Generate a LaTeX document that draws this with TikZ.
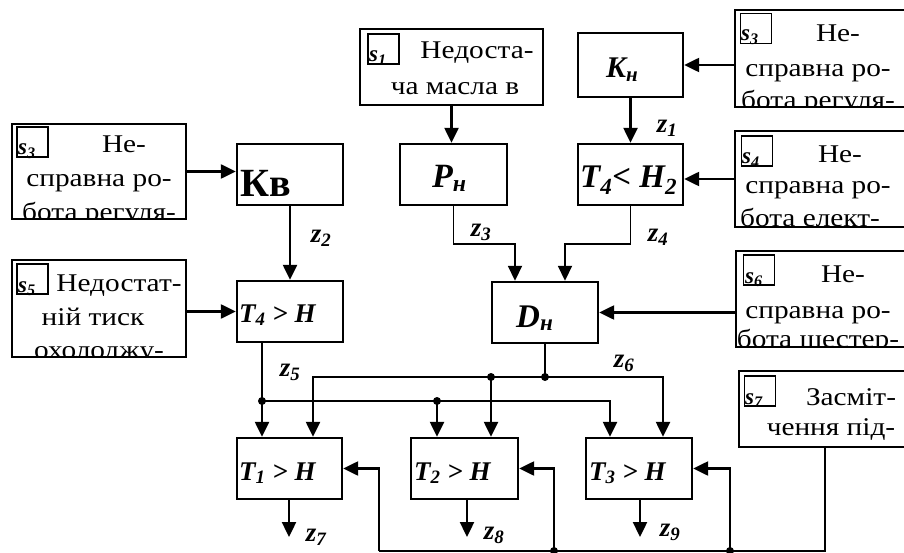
\documentclass[tikz,border=0pt]{standalone}
\usepackage{fontspec}
\setmainfont{Liberation Serif}
\newfontfamily\boxfont{Liberation Serif}[FakeStretch=1.15]
\usetikzlibrary{arrows.meta}
\begin{document}
\begin{tikzpicture}[x=1pt,y=-1pt,
  blk/.style={draw, line width=2.4pt, inner sep=0pt, minimum width=106pt, minimum height=61pt},
  src/.style={draw, line width=2pt, inner sep=0pt},
  sbx/.style={draw, line width=1.2pt, inner sep=0pt, minimum width=31pt, minimum height=30pt},
  arr/.style={line width=2.4pt, -{Triangle[length=15pt,width=14pt]}},
  wire/.style={line width=2.2pt},
  thinw/.style={line width=1.5pt},
  tl/.style={font=\boxfont\fontsize{25.5}{28}\selectfont, anchor=base, inner sep=0pt},
  lbl/.style={font=\bfseries\itshape, anchor=base west, inner sep=0pt},
  zl/.style={font=\fontsize{27}{30}\selectfont\bfseries\itshape, inner sep=0pt},
  sl/.style={font=\fontsize{23}{26}\selectfont\bfseries\itshape, anchor=base west, inner sep=0pt},
  dot/.style={circle, fill, inner sep=0pt, minimum size=8pt}
]
\useasboundingbox (0,0) rectangle (904,553);
\clip (0,0) rectangle (904,553);

% ---------- source text boxes ----------
% sA (s3 left)
\begin{scope}\clip (12,124) rectangle (186,218);
\node[tl] (tA1) at (124,153) {Не-};
\node[tl] (tA2) at (99,187) {справна ро-};
\node[tl] (tA3) at (99,221) {бота регуля-};
\end{scope}
\node[src, minimum width=174pt, minimum height=95pt] (sA) at (99,171.5) {};
\node[sbx] (sqA) at (32.5,142) {};
\node[sl] (lA) at (18,155) {s\textsubscript{3}};

% sB (s5)
\begin{scope}\clip (12,260) rectangle (186,356);
\node[tl] (tB1) at (119,291) {Недостат-};
\node[tl] (tB2) at (93,325) {ній тиск};
\node[tl] (tB3) at (99,358) {охолоджу-};
\end{scope}
\node[src, minimum width=174pt, minimum height=97pt] (sB) at (99,308.5) {};
\node[sbx] (sqB) at (32.5,279) {};
\node[sl] (lB) at (18,292) {s\textsubscript{5}};

% s1
\node[tl] (t11) at (477,59) {Недоста-};
\node[tl] (t12) at (455,95) {ча масла в};
\node[src, minimum width=183pt, minimum height=76pt] (s1) at (451.5,67) {};
\node[sbx] (sq1) at (383.5,49) {};
\node[sl] (l1) at (369,62) {s\textsubscript{1}};

% sC (s3 right)
\begin{scope}\clip (735,10) rectangle (915,106);
\node[tl] (tC1) at (838,42) {Не-};
\node[tl] (tC2) at (818,77) {справна ро-};
\node[tl] (tC3) at (818,109) {бота регуля-};
\end{scope}
\node[src, minimum width=180pt, minimum height=97pt] (sC) at (825,58.5) {};
\node[sbx] (sqC) at (756,28.5) {};
\node[sl] (lC) at (741,41) {s\textsubscript{3}};

% s4
\begin{scope}\clip (735,131) rectangle (915,226);
\node[tl] (t41) at (840,163) {Не-};
\node[tl] (t42) at (818,194) {справна ро-};
\node[tl] (t43) at (810,227) {бота елект-};
\end{scope}
\node[src, minimum width=180pt, minimum height=96pt] (s4) at (825,179) {};
\node[sbx] (sq4) at (757,151) {};
\node[sl] (l4) at (742,164) {s\textsubscript{4}};

% s6
\begin{scope}\clip (736,251) rectangle (915,346);
\node[tl] (t61) at (843,282) {Не-};
\node[tl] (t62) at (818,318) {справна ро-};
\node[tl] (t63) at (818,347) {бота шестер-};
\end{scope}
\node[src, minimum width=179pt, minimum height=96pt] (s6) at (825.5,299) {};
\node[sbx] (sq6) at (759,270) {};
\node[sl] (l6) at (745,283) {s\textsubscript{6}};

% s7
\node[tl] (t71) at (851,405) {Засміт-};
\node[tl] (t72) at (831,435) {чення під-};
\node[src, minimum width=176pt, minimum height=76pt] (s7) at (827,409) {};
\node[sbx] (sq7) at (760,391) {};
\node[sl] (l7) at (745,404) {s\textsubscript{7}};

% ---------- blocks ----------
\node[blk] (kv) at (290,174.5) {};
\node[font=\fontsize{40}{44}\selectfont\bfseries, anchor=base west, inner sep=0pt] (kvt) at (240,197) {Кв};
\node[blk] (t4g) at (290,311.5) {};
\node[lbl, font=\fontsize{27}{30}\selectfont\bfseries\itshape] (t4gt) at (239,322) {T\textsubscript{4} > H};
\node[blk, minimum width=107pt] (pn) at (453.5,174.5) {};
\node[lbl, font=\fontsize{34}{38}\selectfont\bfseries\itshape] (pnt) at (432,188) {P\textsubscript{н}};
\node[blk, minimum width=105pt, minimum height=64pt] (kn) at (630.5,65) {};
\node[lbl, font=\fontsize{30}{34}\selectfont\bfseries\itshape] (knt) at (606,78) {K\textsubscript{н}};
\node[blk, minimum width=105pt] (t4l) at (630.5,174.5) {};
\node[lbl, font=\fontsize{33}{36}\selectfont\bfseries\itshape] (t4lt) at (580,188) {T\textsubscript{4}< H\textsubscript{2}};
\node[blk] (dn) at (545,312.5) {};
\node[lbl, font=\fontsize{33}{36}\selectfont\bfseries\itshape] (dnt) at (516,327) {D\textsubscript{н}};
\node[blk, minimum width=105pt] (t1) at (289.5,468.5) {};
\node[lbl, font=\fontsize{27}{30}\selectfont\bfseries\itshape] (t1t) at (239,480) {T\textsubscript{1} > H};
\node[blk, minimum width=107pt] (t2) at (464.5,468.5) {};
\node[lbl, font=\fontsize{27}{30}\selectfont\bfseries\itshape] (t2t) at (414,480) {T\textsubscript{2} > H};
\node[blk] (t3) at (639,468.5) {};
\node[lbl, font=\fontsize{27}{30}\selectfont\bfseries\itshape] (t3t) at (589,480) {T\textsubscript{3} > H};

% ---------- coordinates ----------
\coordinate (j3) at (515,244);
\coordinate (j4) at (565,244);
\coordinate (b6) at (545,377);
\coordinate (b6l) at (313,377);
\coordinate (b6m) at (491,377);
\coordinate (b6r) at (663,377);
\coordinate (b5) at (262,401);
\coordinate (b5m) at (437,401);
\coordinate (b5r) at (610,401);
\coordinate (o1) at (289,537);
\coordinate (o2) at (467,537);
\coordinate (o3) at (640,537);
\coordinate (f0) at (825,551);
\coordinate (fb1) at (379,551);
\coordinate (fb2) at (554,551);
\coordinate (fb3) at (730,551);

% ---------- connectors ----------
\draw[arr] (sA.east) -- (sA.east -| kv.west);
\draw[arr] (sB.east |- t4g.west) -- (t4g.west);
\draw[arr] (kv.south) -- (t4g.north);
\draw[arr] (s1.south) -- (s1.south |- pn.north);
\draw[arr] (sC.west |- kn.east) -- (kn.east);
\draw[arr] (kn.south) -- (t4l.north);
\draw[arr] (s4.west) -- (s4.west -| t4l.east);
\draw[arr] (s6.west |- dn.east) -- (dn.east);
\draw[arr, line width=1.8pt] (pn.south) |- (j3) -- (j3 |- dn.north);
\draw[arr, line width=1.8pt] (t4l.south) |- (j4) -- (j4 |- dn.north);

\draw[wire, line width=1.8pt] (dn.south) -- (b6);
\draw[arr] (b6) -- (b6l) -- (b6l |- t1.north);
\draw[arr] (b6) -- (b6r) -- (b6r |- t3.north);
\draw[arr] (b6m) -- (b6m |- t2.north);

\draw[arr] (t4g.south -| b5) -- (b5 |- t1.north);
\draw[arr] (b5) -- (b5r) -- (b5r |- t3.north);
\draw[arr] (b5m) -- (b5m |- t2.north);

\draw[arr] (t1.south -| o1) -- (o1);
\draw[arr] (t2.south -| o2) -- (o2);
\draw[arr] (t3.south -| o3) -- (o3);

\draw[thinw] (s7.south -| f0) -- (f0) -- (fb1);
\draw[arr] (fb1) |- (t1.east);
\draw[arr] (fb2) |- (t2.east);
\draw[arr] (fb3) |- (t3.east);

\foreach \p in {b6,b6m,b5,b5m,fb2,fb3} \node[dot] at (\p) {};

% ---------- z labels ----------
\node[zl] (z1) at (667,128) {z\textsubscript{1}};
\node[zl] (z2) at (321,238) {z\textsubscript{2}};
\node[zl] (z3) at (481,232) {z\textsubscript{3}};
\node[zl] (z4) at (658,237) {z\textsubscript{4}};
\node[zl] (z5) at (290,372) {z\textsubscript{5}};
\node[zl] (z6) at (624,363) {z\textsubscript{6}};
\node[zl] (z7) at (316,537) {z\textsubscript{7}};
\node[zl] (z8) at (494,535) {z\textsubscript{8}};
\node[zl] (z9) at (670,532) {z\textsubscript{9}};
\end{tikzpicture}
\end{document}
